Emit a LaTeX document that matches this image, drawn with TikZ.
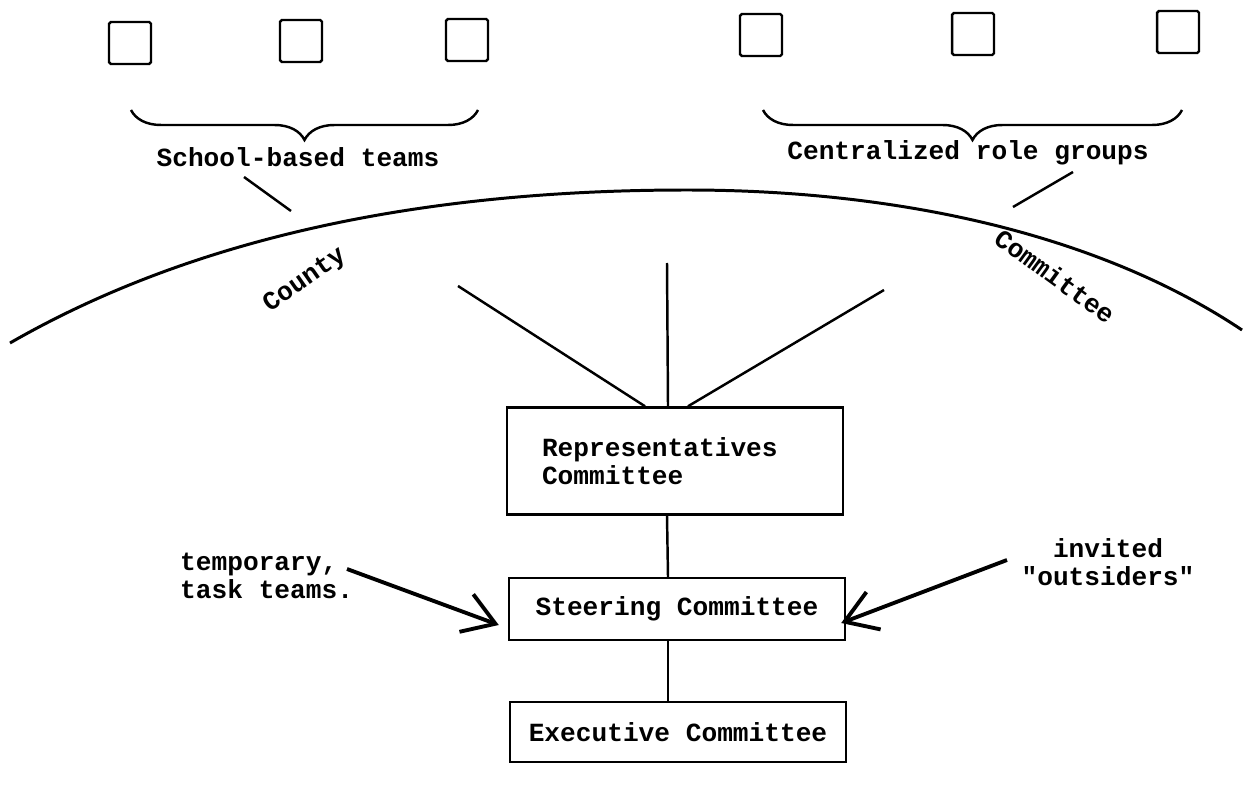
\documentclass[tikz,border=0pt]{standalone}
\usepackage{fontspec}
\setmainfont{Liberation Mono}
\usetikzlibrary{arrows.meta,decorations.pathreplacing}

\begin{document}
\begin{tikzpicture}[x=0.02cm, y=-0.02cm, line width=1.4pt,
  every node/.style={font=\bfseries\fontsize{14.9}{15.9}\selectfont, inner sep=0pt},
  team/.style={draw, minimum size=0.84cm, rounded corners=1pt},
  committee/.style={draw, minimum width=6.72cm, inner xsep=0.35cm},
  groupbrace/.style={decorate, decoration={brace, amplitude=0.6cm, mirror}},
  feed/.style={line width=2.2pt, -{Straight Barb[length=0.62cm, width=0.8cm]}}]
  \useasboundingbox (0,0) rectangle (1243,790);

  \node[team] (s1) at (130,43) {};
  \node[team] (s2) at (301,41) {};
  \node[team] (s3) at (467,40) {};
  \node[team] (c1) at (761,35) {};
  \node[team] (c2) at (973,34) {};
  \node[team] (c3) at (1178,32) {};

  \draw[groupbrace] (131,110) -- (478,110);
  \draw[groupbrace] (763,110) -- (1182,110);
  \node[anchor=base] (school) at (298,167) {School-based teams};
  \node[anchor=base] (central) at (968,160) {Centralized role groups};

  \coordinate (sa) at (244,177);
  \coordinate (sb) at (291,211);
  \coordinate (ca) at (1073,172);
  \coordinate (cb) at (1013,207);
  \draw (sa) -- (sb);
  \draw (ca) -- (cb);

  \draw[line width=1.7pt] (10,343) .. controls (210,228) and (450,190) .. (687,190)
    .. controls (900,190) and (1100,235) .. (1242,330);
  \node[rotate=35] (county) at (305,281) {County};
  \node[rotate=-36] (cmte) at (1055,276) {Committee};

  \node[committee, minimum height=2.14cm, inner xsep=0.7cm, text width=5.32cm, align=left] (rep) at (675,461)
    {Representatives\\Committee};
  \node[committee, minimum height=1.24cm] (steer) at (677,609) {Steering Committee};
  \node[committee, minimum height=1.2cm] (exec) at (678,732) {Executive Committee};

  \coordinate (l1) at (458,286);
  \coordinate (l2) at (667,263);
  \coordinate (l3) at (884,290);
  \draw (l1) -- ([shift={(-30,0)}]rep.north);
  \draw (l2) -- ([shift={(-7,0)}]rep.north);
  \draw (l3) -- ([shift={(13,0)}]rep.north);
  \draw ([shift={(-8,0)}]rep.south) -- ([shift={(-9,0)}]steer.north);
  \draw ([shift={(-9,0)}]steer.south) -- ([shift={(-10,0)}]exec.north);

  \node[anchor=west, align=left] (temp) at (179,576) {temporary,\\task teams.};
  \node[align=center] (invited) at (1108,562) {invited\\\textquotedbl outsiders\textquotedbl};
  \coordinate (ta) at (347,569);
  \coordinate (ia) at (1007,560);
  \draw[feed] (ta) -- ([shift={(-9,16)}]steer.west);
  \draw[feed] (ia) -- ([shift={(-5,14)}]steer.east);
\end{tikzpicture}
\end{document}
